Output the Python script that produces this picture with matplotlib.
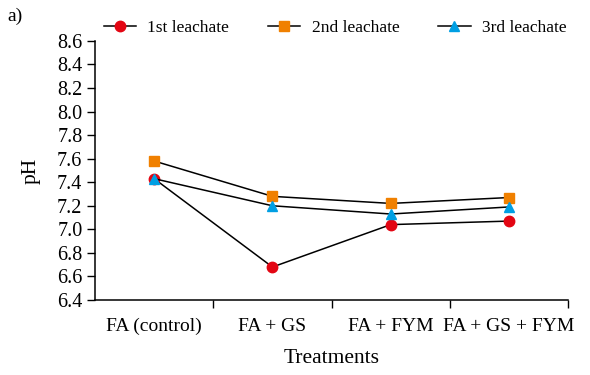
import matplotlib
matplotlib.use("Agg")
from matplotlib import pyplot as plt

# pH of leachates per treatment
treatments = ["FA (control)", "FA + GS", "FA + FYM", "FA + GS + FYM"]
leachate_1 = [7.43, 6.68, 7.04, 7.07]
leachate_2 = [7.58, 7.28, 7.22, 7.27]
leachate_3 = [7.43, 7.20, 7.13, 7.19]
y_ticks = [6.4, 6.6, 6.8, 7.0, 7.2, 7.4, 7.6, 7.8, 8.0, 8.2, 8.4, 8.6]

plt.rcParams['font.family'] = ['Liberation Serif', 'DejaVu Serif']
plt.rcParams['font.size'] = 13

fig = plt.figure(figsize=(5.9, 3.75), dpi=100)
ax = fig.add_axes([0.161, 0.2, 0.802, 0.691])

x = list(range(len(treatments)))
ax.plot(x, leachate_1, color='black', lw=1.1, marker='o', ms=7.5,
        mfc='#e30613', mec='#e30613', label='1st leachate', zorder=3)
ax.plot(x, leachate_2, color='black', lw=1.1, marker='s', ms=6.5,
        mfc='#f08000', mec='#f08000', label='2nd leachate', zorder=3)
ax.plot(x, leachate_3, color='black', lw=1.1, marker='^', ms=7.5,
        mfc='#009fe3', mec='#009fe3', label='3rd leachate', zorder=4)

ax.set_xlim(-0.5, len(treatments) - 0.5)
ax.set_ylim(6.4, 8.6)
ax.set_yticks(y_ticks)
ax.set_yticklabels([f"{v:.1f}" for v in y_ticks], fontsize=14.5)

# boundary ticks between categories, labels centred on categories
ax.set_xticks([i + 0.5 for i in range(len(treatments))])
ax.set_xticklabels([])
ax.set_xticks(x, minor=True)
ax.set_xticklabels(treatments, minor=True, fontsize=14)
ax.tick_params(axis='x', which='major', length=6, width=1, direction='out')
ax.tick_params(axis='x', which='minor', length=0, pad=13)
ax.tick_params(axis='y', length=6, width=1, direction='out', pad=3)

for side in ['top', 'right']:
    ax.spines[side].set_visible(False)
for side in ['left', 'bottom']:
    ax.spines[side].set_linewidth(1.1)

ax.set_xlabel("Treatments", fontsize=15.5, labelpad=10)
ax.set_ylabel("pH", fontsize=15.5, labelpad=12)

ax.legend(loc='center', bbox_to_anchor=(0.568, 0.925), bbox_transform=fig.transFigure,
          ncol=3, frameon=False, handlelength=1.85, columnspacing=2.25,
          handletextpad=0.65, fontsize=12.5)

fig.text(0.012, 0.945, "a)", fontsize=14)

fig.savefig("out.png", dpi=100)
